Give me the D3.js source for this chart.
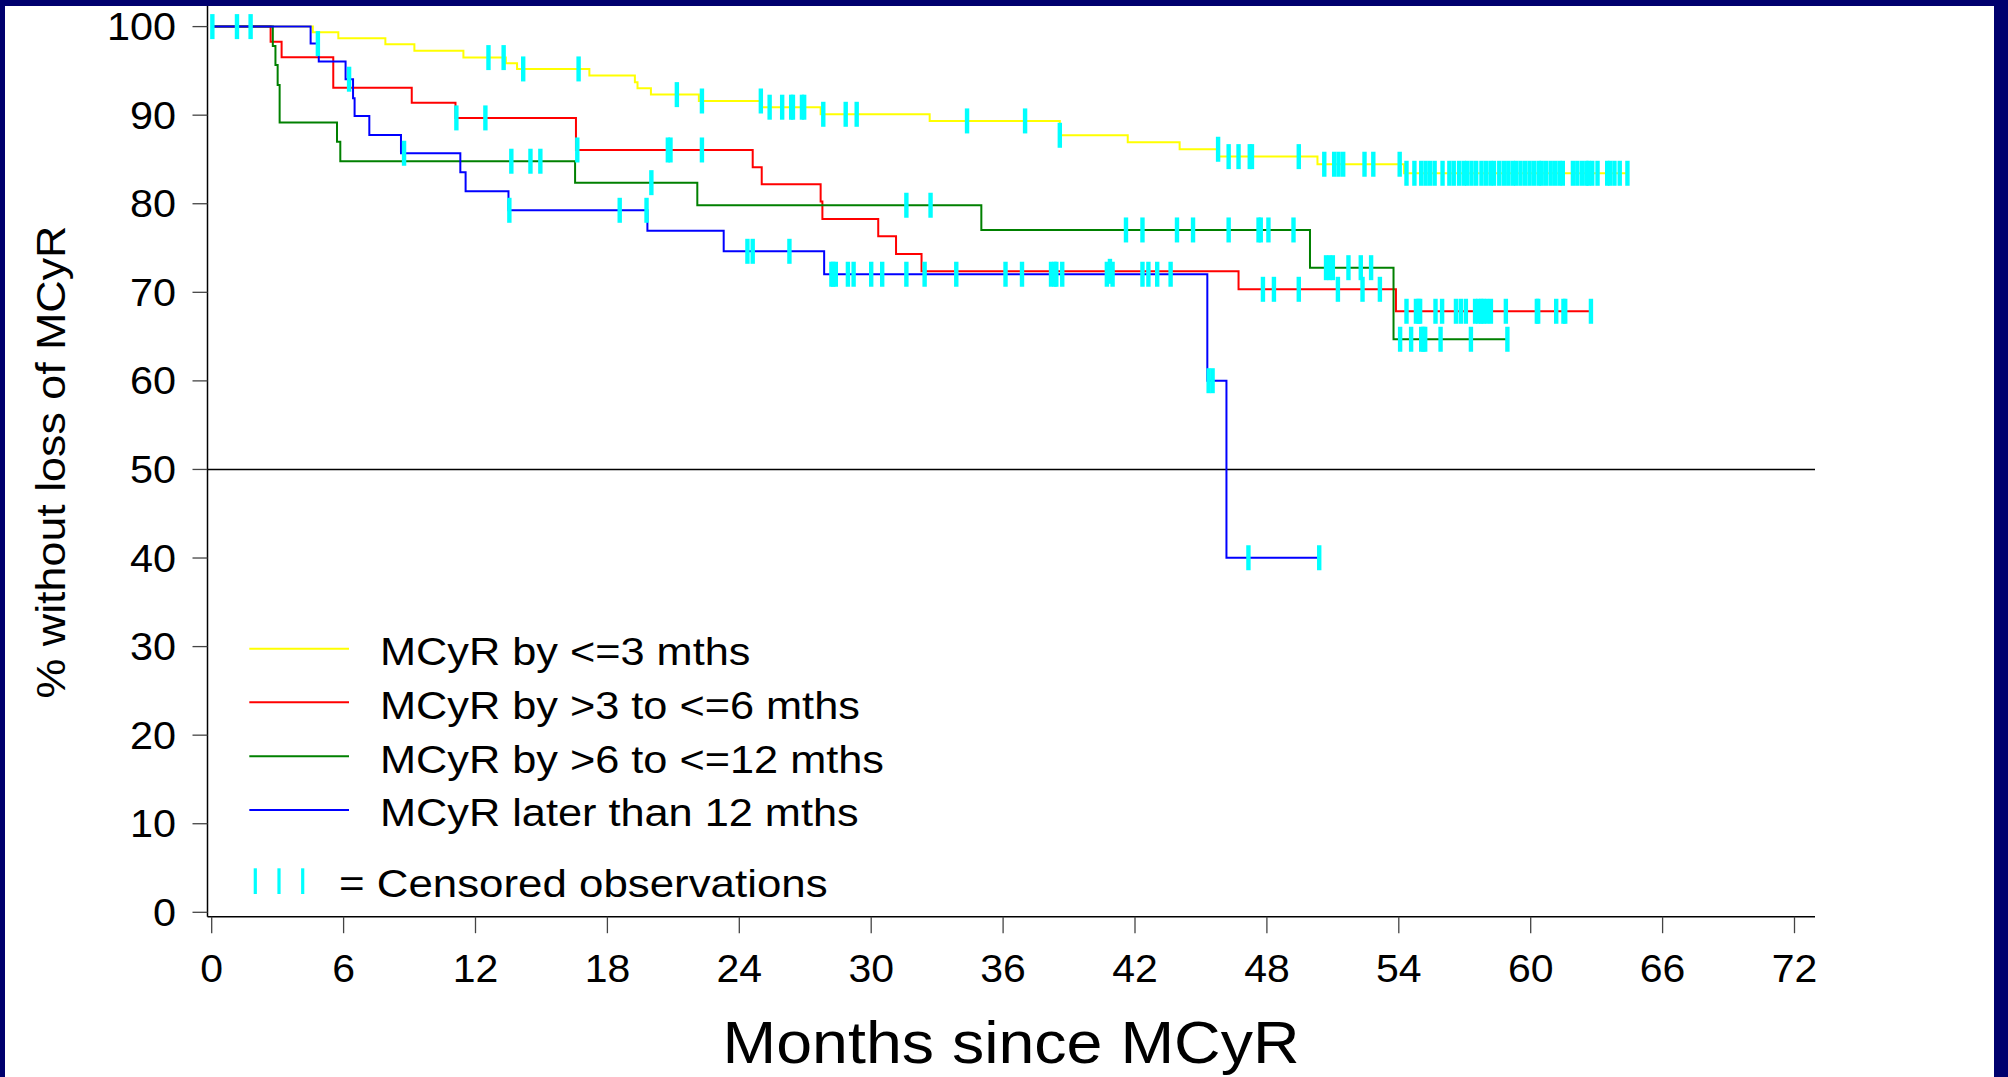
<!DOCTYPE html>
<html>
<head>
<meta charset="utf-8">
<script src="https://cdn.jsdelivr.net/npm/d3@7"></script>
<style>
  body { margin: 0; background: #00006e; overflow: hidden; }
  text { font-family: 'Liberation Sans', Arial, sans-serif; fill: #000; }
</style>
</head>
<body>
<svg id="chart"></svg>
<script>
var width = 2008;
var height = 1077;

var seriesNames = ['MCyR by <=3 mths', 'MCyR by >3 to <=6 mths', 'MCyR by >6 to <=12 mths', 'MCyR later than 12 mths'];
var seriesColors = ['#ffff00', '#ff0000', '#008000', '#0000ff'];

// Kaplan-Meier steps: [month, % without loss of MCyR]
var stepsYellow = [[0,100],[4.6,99.37],[5.76,98.69],[7.9,98.01],[9.22,97.28],[11.45,96.5],[13.38,95.86],[13.89,95.22],
  [17.18,94.47],[19.25,93.72],[19.37,93.04],[19.98,92.32],[22.16,91.6],[25.0,90.9],[27.7,90.1],[32.66,89.35],
  [38.58,87.73],[41.67,86.94],[44.03,86.15],[45.8,85.32],[50.3,84.46],[54.24,83.44],[64.4,83.44]];
var stepsRed = [[0,100],[2.68,98.3],[3.18,96.54],[5.53,93.11],[9.1,91.4],[11.09,89.69],[16.57,86.07],[24.61,84.12],
  [25.02,82.2],[27.7,80.24],[27.78,78.28],[30.32,76.33],[31.13,74.33],[32.29,72.37],[46.71,70.34],[53.87,67.86],[62.74,67.86]];
var stepsGreen = [[0,100],[2.78,97.82],[2.9,95.67],[3.0,93.41],[3.09,89.16],[5.7,87.01],[5.85,84.8],[16.53,82.38],
  [22.09,79.83],[35.01,77.04],[49.96,72.78],[53.76,64.7],[58.94,64.7]];
var stepsBlue = [[0,100],[4.5,98.08],[4.87,96.05],[6.09,94.06],[6.43,91.9],[6.5,89.92],[7.17,87.77],[8.61,85.7],
  [11.31,83.55],[11.55,81.41],[13.5,79.26],[19.82,76.96],[23.29,74.63],[27.86,72.04],[45.29,60.02],[46.16,40.03],[50.38,40.03]];

// censored observations, months
var censYellow = [1.77,12.59,13.28,14.17,16.69,21.16,22.3,24.98,25.38,25.95,26.36,26.44,26.85,26.95,27.82,28.84,29.34,
  34.36,37.0,38.58,45.78,46.26,46.71,47.22,47.32,49.45,50.61,51.06,51.26,51.47,52.44,52.84,54.04,54.35,54.71,55.02,
  55.22,55.42,55.63,55.99,56.3,56.5,56.74,56.95,57.11,57.31,57.52,57.76,57.96,58.17,58.33,58.57,58.78,58.98,59.18,
  59.34,59.54,59.75,59.95,60.15,60.36,60.5,60.7,60.91,61.11,61.31,61.46,61.92,62.12,62.33,62.53,62.63,62.8,63.04,
  63.48,63.61,63.81,64.05,64.4];
var censRed = [1.15,11.13,12.45,16.63,20.75,20.87,22.3,40.86,47.82,48.32,49.45,51.23,52.35,53.14,54.35,54.78,54.9,
  54.97,55.67,55.97,56.6,56.82,57.05,57.47,57.62,57.75,57.85,58.01,58.19,58.87,60.28,60.34,61.16,61.49,61.57,62.74];
var censGreen = [13.63,14.5,14.95,20.0,31.6,32.7,41.59,42.34,43.91,44.64,46.26,47.62,47.72,48.07,49.21,50.69,50.85,
  51.0,51.71,52.27,52.74,54.06,54.56,55.02,55.12,55.2,55.9,57.28,58.94];
var censBlue = [0.03,4.83,6.25,8.75,13.54,18.56,19.78,24.37,24.61,26.28,28.19,28.27,28.39,28.94,29.2,30.0,30.5,31.6,
  32.43,33.87,36.11,36.86,38.18,38.34,38.42,38.69,40.72,40.98,42.34,42.61,43.01,43.62,45.35,45.53,47.16,50.38];

var xTicks = [0, 6, 12, 18, 24, 30, 36, 42, 48, 54, 60, 66, 72];
var yTicks = [0, 10, 20, 30, 40, 50, 60, 70, 80, 90, 100];

var allSteps = [stepsYellow, stepsRed, stepsGreen, stepsBlue];
var allCens = [censYellow, censRed, censGreen, censBlue];

var svg = d3.select('#chart')
  .attr('width', width)
  .attr('height', height);

// navy frame, white page
svg.append('rect').attr('width', width).attr('height', height).attr('fill', '#00006e');
svg.append('rect')
  .attr('x', 5).attr('y', 6)
  .attr('width', 1989).attr('height', height - 6)
  .attr('fill', '#ffffff');

var x = d3.scaleLinear().domain([0, 72]).range([211.7, 1794.5]);
var y = d3.scaleLinear().domain([0, 100]).range([912.3, 26.6]);

var axisX = 207.5;
var axisY = 916.7;
var plotRight = 1815;

// axis lines
svg.append('line')
  .attr('x1', axisX).attr('x2', axisX)
  .attr('y1', 6).attr('y2', axisY)
  .attr('stroke', '#000').attr('stroke-width', 1.5);
svg.append('line')
  .attr('x1', axisX).attr('x2', plotRight)
  .attr('y1', axisY).attr('y2', axisY)
  .attr('stroke', '#000').attr('stroke-width', 1.5);

// y ticks + labels
var yt = svg.append('g').attr('class', 'y-ticks');
yTicks.forEach(function(v) {
  yt.append('line')
    .attr('x1', axisX - 15).attr('x2', axisX)
    .attr('y1', y(v)).attr('y2', y(v))
    .attr('stroke', '#444').attr('stroke-width', 1.3);
  yt.append('text')
    .attr('transform', 'translate(176,' + (y(v) + 13.5) + ') scale(1.09,1)')
    .attr('text-anchor', 'end')
    .style('font-size', '38px')
    .text(v);
});

// x ticks + labels
var xt = svg.append('g').attr('class', 'x-ticks');
xTicks.forEach(function(v) {
  xt.append('line')
    .attr('x1', x(v)).attr('x2', x(v))
    .attr('y1', axisY).attr('y2', axisY + 16.5)
    .attr('stroke', '#444').attr('stroke-width', 1.3);
  xt.append('text')
    .attr('transform', 'translate(' + x(v) + ',981.7) scale(1.05,1)')
    .attr('text-anchor', 'middle')
    .style('font-size', '39px')
    .text(v);
});

// 50% reference line
svg.append('line')
  .attr('x1', axisX).attr('x2', plotRight)
  .attr('y1', y(50)).attr('y2', y(50))
  .attr('stroke', '#000').attr('stroke-width', 1.5);

// axis titles
svg.append('text')
  .attr('transform', 'translate(1011,1063) scale(1.075,1)')
  .attr('text-anchor', 'middle')
  .style('font-size', '60px')
  .text('Months since MCyR');

svg.append('text')
  .attr('transform', 'translate(64.7,462) rotate(-90) scale(1.12,1)')
  .attr('text-anchor', 'middle')
  .style('font-size', '40px')
  .text('% without loss of MCyR');

// curves
var line = d3.line()
  .x(function(d) { return x(d[0]); })
  .y(function(d) { return y(d[1]); })
  .curve(d3.curveStepAfter);

function survAt(steps, t) {
  var v = steps[0][1];
  steps.forEach(function(s) { if (s[0] <= t) v = s[1]; });
  return v;
}

var curves = svg.append('g').attr('class', 'curves');
allSteps.forEach(function(steps, i) {
  curves.append('path')
    .datum(steps)
    .attr('d', line)
    .attr('fill', 'none')
    .attr('stroke', seriesColors[i])
    .attr('stroke-width', 2);
});

var marks = svg.append('g').attr('class', 'censored');
allCens.forEach(function(cens, i) {
  cens.forEach(function(t) {
    marks.append('rect')
      .attr('x', x(t) - 2.2)
      .attr('y', y(survAt(allSteps[i], t)) - 12.5)
      .attr('width', 4.4)
      .attr('height', 25)
      .attr('fill', '#00ffff');
  });
});

// legend
var legendY = [648.7, 702.3, 756.3, 810];
var legend = svg.append('g').attr('class', 'legend');
seriesNames.forEach(function(name, i) {
  legend.append('line')
    .attr('x1', 249.3).attr('x2', 349)
    .attr('y1', legendY[i]).attr('y2', legendY[i])
    .attr('stroke', seriesColors[i]).attr('stroke-width', 2);
  legend.append('text')
    .attr('transform', 'translate(380,' + (legendY[i] + 16.4) + ') scale(1.11,1)')
    .style('font-size', '39px')
    .text(name);
});

[255.3, 279, 302.7].forEach(function(px) {
  legend.append('rect')
    .attr('x', px - 1.6).attr('y', 868.3)
    .attr('width', 3.2).attr('height', 25.7)
    .attr('fill', '#00ffff');
});
legend.append('text')
  .attr('transform', 'translate(339,897) scale(1.11,1)')
  .style('font-size', '39.5px')
  .text('= Censored observations');
</script>
</body>
</html>
